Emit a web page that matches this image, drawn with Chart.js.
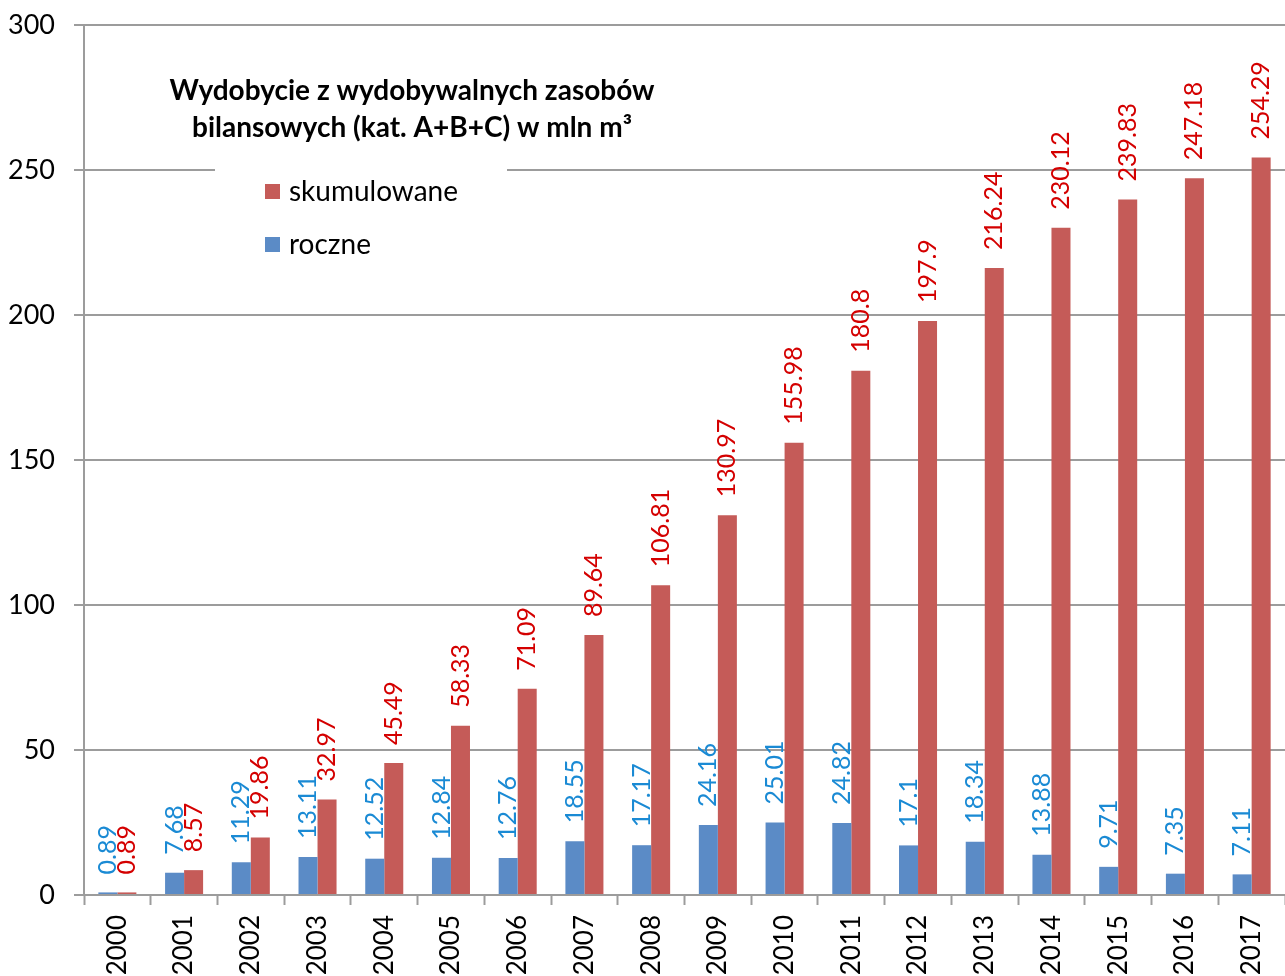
<!DOCTYPE html>
<html>
<head>
<meta charset="utf-8">
<script src="https://cdn.jsdelivr.net/npm/chart.js"></script>
<style>
  body { margin: 0; background: #fff; }
</style>
</head>
<body>
<canvas id="wydobycie" width="1285" height="976"></canvas>
<script>
// Wydobycie roczne i skumulowane, mln m3
const years = ["2000", "2001", "2002", "2003", "2004", "2005", "2006", "2007", "2008",
  "2009", "2010", "2011", "2012", "2013", "2014", "2015", "2016", "2017"];
const roczne = [0.89, 7.68, 11.29, 13.11, 12.52, 12.84, 12.76, 18.55, 17.17,
  24.16, 25.01, 24.82, 17.1, 18.34, 13.88, 9.71, 7.35, 7.11];
const skumulowane = [0.89, 8.57, 19.86, 32.97, 45.49, 58.33, 71.09, 89.64, 106.81,
  130.97, 155.98, 180.8, 197.9, 216.24, 230.12, 239.83, 247.18, 254.29];
const titleLines = ["Wydobycie z wydobywalnych zasobów", "bilansowych (kat. A+B+C) w mln m³"];

const FONT = "Lato, 'Open Sans', sans-serif";
const gridColor = "#9c9c9c";

// wartości nad słupkami, obrócone pionowo
const valueLabels = {
  id: "valueLabels",
  afterDatasetsDraw(chart) {
    const ctx = chart.ctx;
    chart.data.datasets.forEach((ds, i) => {
      chart.getDatasetMeta(i).data.forEach((bar, j) => {
        ctx.save();
        ctx.translate(bar.x, bar.y - 18);
        ctx.rotate(-Math.PI / 2);
        ctx.font = "25px " + FONT;
        ctx.fillStyle = ds.labelColor;
        ctx.textAlign = "left";
        ctx.textBaseline = "middle";
        ctx.fillText(String(ds.data[j]), 0, 0);
        ctx.restore();
      });
    });
  }
};

// tytuł i legenda wewnątrz obszaru wykresu
const titleBox = {
  id: "titleBox",
  beforeDatasetsDraw(chart) {
    const ctx = chart.ctx;
    const left = chart.chartArea.left;
    ctx.save();
    ctx.fillStyle = "#fff";
    ctx.fillRect(left + 131, 150, 292, 115);

    ctx.fillStyle = "#000";
    ctx.font = "bold 28px " + FONT;
    ctx.textAlign = "center";
    ctx.textBaseline = "alphabetic";
    ctx.fillText(titleLines[0], 412, 100);
    ctx.fillText(titleLines[1], 412, 137);

    const items = [chart.data.datasets[1], chart.data.datasets[0]];
    ctx.font = "28px " + FONT;
    ctx.textAlign = "left";
    items.forEach((ds, k) => {
      const y = 184 + k * 53;
      ctx.fillStyle = ds.backgroundColor;
      ctx.fillRect(265, y, 15, 15);
      ctx.fillStyle = "#000";
      ctx.fillText(ds.label, 289, y + 17);
    });
    ctx.restore();
  }
};

new Chart(document.getElementById("wydobycie"), {
  type: "bar",
  data: {
    labels: years,
    datasets: [
      {
        label: "roczne",
        data: roczne,
        backgroundColor: "#5b8bc6",
        labelColor: "#1a8ad4",
        categoryPercentage: 0.57,
        barPercentage: 1
      },
      {
        label: "skumulowane",
        data: skumulowane,
        backgroundColor: "#c55b58",
        labelColor: "#d40000",
        categoryPercentage: 0.57,
        barPercentage: 1
      }
    ]
  },
  options: {
    responsive: false,
    animation: false,
    layout: { padding: { top: 25, right: 0, bottom: 0, left: 0 } },
    plugins: {
      legend: { display: false },
      tooltip: { enabled: false }
    },
    scales: {
      x: {
        afterFit: s => {
          s.height = 81;
          s.paddingLeft = 0;
          s.paddingRight = 0;
        },
        grid: {
          offset: true,
          drawOnChartArea: false,
          tickLength: 10,
          tickWidth: 2,
          color: gridColor
        },
        border: { color: gridColor, width: 2 },
        ticks: {
          minRotation: 90,
          maxRotation: 90,
          padding: 10,
          color: "#000",
          font: { family: FONT, size: 26 }
        }
      },
      y: {
        min: 0,
        max: 300,
        afterFit: s => {
          s.width = 84;
          s.paddingTop = 0;
          s.paddingBottom = 0;
        },
        grid: {
          color: gridColor,
          lineWidth: 2,
          tickLength: 10
        },
        border: { color: gridColor, width: 2 },
        ticks: {
          stepSize: 50,
          padding: 19,
          color: "#000",
          font: { family: FONT, size: 27 }
        }
      }
    }
  },
  plugins: [titleBox, valueLabels]
});
</script>
</body>
</html>
